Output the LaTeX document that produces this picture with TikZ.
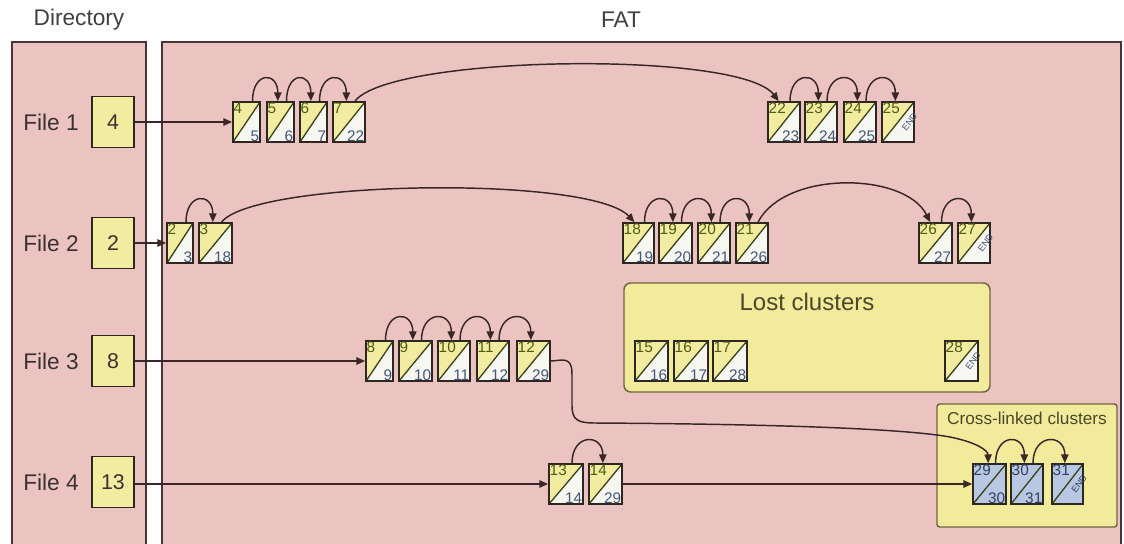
\documentclass[tikz,border=0pt]{standalone}
\usepackage{fontspec}
\setmainfont{Liberation Sans}
\usetikzlibrary{arrows.meta}
\definecolor{bgpink}{HTML}{EBC4C2}
\definecolor{panelline}{HTML}{4A3434}
\definecolor{yel}{HTML}{F2ECA0}
\definecolor{lostyel}{HTML}{F2EB9C}
\definecolor{clwhite}{HTML}{F7F7F2}
\definecolor{clblue}{HTML}{B8C7E2}
\definecolor{toptxt}{HTML}{4F5C14}
\definecolor{bottxt}{HTML}{465478}
\definecolor{diagc}{HTML}{3A4418}
\definecolor{boxline}{HTML}{2E2620}
\definecolor{conncol}{HTML}{3A2626}
\definecolor{bluetxt}{HTML}{34405E}
\definecolor{grpline}{HTML}{6E6440}
\definecolor{labtxt}{HTML}{3A3232}
\definecolor{grptxt}{HTML}{4A4828}

\tikzset{
  panel/.style={draw=panelline, line width=1.2pt, fill=bgpink},
  dirbox/.style={draw=boxline, line width=1.2pt, fill=yel, minimum width=31.5pt, minimum height=38pt, inner sep=0pt, font=\fontsize{16}{18}\selectfont, text=labtxt},
  filelab/.style={font=\fontsize{17}{20}\selectfont, text=labtxt, inner sep=0pt},
  titlelab/.style={font=\fontsize{17}{20}\selectfont, text=black!75, inner sep=0pt},
  clbase/.style 2 args={draw=boxline, line width=1.3pt, minimum height=30pt, inner sep=0pt,
    path picture={
      \fill[#1] (path picture bounding box.north west) -- (path picture bounding box.north east) -- (path picture bounding box.south west) -- cycle;
      \fill[#2] (path picture bounding box.north east) -- (path picture bounding box.south east) -- (path picture bounding box.south west) -- cycle;
      \draw[diagc, line width=1pt] (path picture bounding box.south west) -- (path picture bounding box.north east);
    }},
  cl/.style={clbase={yel}{clwhite}},
  clb/.style={clbase={clblue}{clblue}},
  toplab/.style={anchor=north west, inner sep=1pt, font=\fontsize{11.5}{11.5}\selectfont},
  botlab/.style={anchor=south east, inner sep=1pt, font=\fontsize{11.5}{11.5}\selectfont},
  endlab/.style={rotate=53, inner sep=0pt, font=\fontsize{6.8}{6.8}\selectfont},
  arr/.style={draw=conncol, line width=1.1pt, -{Triangle[length=6.5pt,width=5.5pt]}},
  grp/.style={draw=grpline, line width=1.1pt, fill=lostyel, inner sep=0pt},
}

% name, left x, center y, width, top, bottom, style, top colour, bottom colour
\newcommand\clbox[9]{%
  \node[#7, minimum width={#4*0.75pt}] (c#1) at ({#2+#4/2},#3) {};
  \node[toplab, text=#8] (c#1t) at (c#1.north west) {#5};
  \node[botlab, text=#9] (c#1b) at (c#1.south east) {#6};
}
\newcommand\clboxend[8]{%
  \node[#6, minimum width={#4*0.75pt}] (c#1) at ({#2+#4/2},#3) {};
  \node[toplab, text=#7] (c#1t) at (c#1.north west) {#5};
  \node[endlab, text=#8, xshift=5.2pt, yshift=-7pt] (c#1b) at (c#1.center) {END};
}
\newcommand\hop[2]{%
  \draw[arr] ([xshift=4.5pt]c#1.north) .. controls +(0,-30) and +(0,-30) .. ([xshift=-2pt]c#2.north);
}

\begin{document}
\begin{tikzpicture}[x=0.75pt,y=-0.75pt]
\useasboundingbox (0,0) rectangle (1124,543);
\fill[white] (0,0) rectangle (1124,543);
\begin{scope}
\clip (0,0) rectangle (1124,543);
\draw[panel] (12,42) rectangle (146,570);
\draw[panel] (162,42) rectangle (1121,570);
\end{scope}

\node[titlelab] (tdir) at (79,20) {Directory};
\node[titlelab] (tfat) at (621,20) {FAT};

% directory entries
\node[filelab] (f1) at (51,122) {File 1};
\node[filelab] (f2) at (51,243) {File 2};
\node[filelab] (f3) at (51,361) {File 3};
\node[filelab] (f4) at (51,482) {File 4};
\node[dirbox] (d1) at (113,122) {4};
\node[dirbox] (d2) at (113,243) {2};
\node[dirbox] (d3) at (113,361) {8};
\node[dirbox] (d4) at (113,482) {13};

% group boxes
\node[grp, rounded corners=5pt, minimum width={366*0.75pt}, minimum height={109*0.75pt}] (lost) at (807,337.5) {};
\node[font=\fontsize{18}{20}\selectfont, text=grptxt, inner sep=0pt] (losttitle) at (807,302) {Lost clusters};
\node[grp, rounded corners=2pt, minimum width={180*0.75pt}, minimum height={123*0.75pt}] (cross) at (1027,465.5) {};
\node[font=\fontsize{12.9}{14}\selectfont, text=grptxt, inner sep=0pt] (crosstitle) at (1027,418) {Cross-linked clusters};

% file 1
\clbox{4}{233}{122}{27}{4}{5}{cl}{toptxt}{bottxt}
\clbox{5}{267}{122}{27}{5}{6}{cl}{toptxt}{bottxt}
\clbox{6}{300}{122}{27}{6}{7}{cl}{toptxt}{bottxt}
\clbox{7}{333}{122}{32}{7}{22}{cl}{toptxt}{bottxt}
\clbox{22}{768}{122}{32}{22}{23}{cl}{toptxt}{bottxt}
\clbox{23}{805}{122}{32}{23}{24}{cl}{toptxt}{bottxt}
\clbox{24}{844}{122}{32}{24}{25}{cl}{toptxt}{bottxt}
\clboxend{25}{882}{122}{32}{25}{cl}{toptxt}{bottxt}

% file 2
\clbox{2}{167}{243}{26}{2}{3}{cl}{toptxt}{bottxt}
\clbox{3}{199}{243}{33}{3}{18}{cl}{toptxt}{bottxt}
\clbox{18}{623}{243}{31}{18}{19}{cl}{toptxt}{bottxt}
\clbox{19}{659}{243}{33}{19}{20}{cl}{toptxt}{bottxt}
\clbox{20}{698}{243}{32}{20}{21}{cl}{toptxt}{bottxt}
\clbox{21}{736}{243}{32}{21}{26}{cl}{toptxt}{bottxt}
\clbox{26}{919}{243}{33}{26}{27}{cl}{toptxt}{bottxt}
\clboxend{27}{958}{243}{32}{27}{cl}{toptxt}{bottxt}

% lost clusters
\clbox{15}{635}{361}{33}{15}{16}{cl}{toptxt}{bottxt}
\clbox{16}{674}{361}{34}{16}{17}{cl}{toptxt}{bottxt}
\clbox{17}{713}{361}{34}{17}{28}{cl}{toptxt}{bottxt}
\clboxend{28}{945}{361}{33}{28}{cl}{toptxt}{bottxt}

% file 3
\clbox{8}{366}{361}{27}{8}{9}{cl}{toptxt}{bottxt}
\clbox{9}{399}{361}{33}{9}{10}{cl}{toptxt}{bottxt}
\clbox{10}{438}{361}{32}{10}{11}{cl}{toptxt}{bottxt}
\clbox{11}{477}{361}{32}{11}{12}{cl}{toptxt}{bottxt}
\clbox{12}{517}{361}{33}{12}{29}{cl}{toptxt}{bottxt}

% file 4
\clbox{13}{549}{484}{34}{13}{14}{cl}{toptxt}{bottxt}
\clbox{14}{589}{484}{33}{14}{29}{cl}{toptxt}{bottxt}

% cross-linked
\clbox{29}{973}{484}{33}{29}{30}{clb}{bluetxt}{bluetxt}
\clbox{30}{1011}{484}{32}{30}{31}{clb}{bluetxt}{bluetxt}
\clboxend{31}{1052}{484}{31}{31}{clb}{bluetxt}{bluetxt}

% directory pointers
\draw[arr] (d1.east) -- (c4.west);
\draw[arr] (d2.east) -- (c2.west);
\draw[arr] (d3.east) -- (c8.west);
\draw[arr] (d4.east |- c13.west) -- (c13.west);

% chains
\hop{4}{5}\hop{5}{6}\hop{6}{7}
\draw[arr] ([xshift=4.5pt]c7.north) .. controls (390,55) and (740,50) .. ([xshift=-4pt]c22.north);
\hop{22}{23}\hop{23}{24}\hop{24}{25}

\hop{2}{3}
\draw[arr] ([xshift=4.5pt]c3.north) .. controls (255,180) and (590,175) .. ([xshift=-3pt]c18.north);
\hop{18}{19}\hop{19}{20}\hop{20}{21}
\draw[arr] ([xshift=4.5pt]c21.north) .. controls (785,170) and (905,172) .. ([xshift=-4pt]c26.north);
\hop{26}{27}

\hop{8}{9}\hop{9}{10}\hop{10}{11}\hop{11}{12}
\draw[arr] (c12.east) -- (562,360) .. controls (572,360) and (572,368) .. (572,378) -- (572,406)
  .. controls (572,420) and (578,423) .. (595,423) .. controls (760,424) and (900,428) .. (950,437)
  .. controls (975,442) and (988,450) .. ([xshift=-1pt]c29.north);

\hop{13}{14}
\draw[arr] (c14.east) -- (c29.west);
\hop{29}{30}\hop{30}{31}
\end{tikzpicture}
\end{document}
